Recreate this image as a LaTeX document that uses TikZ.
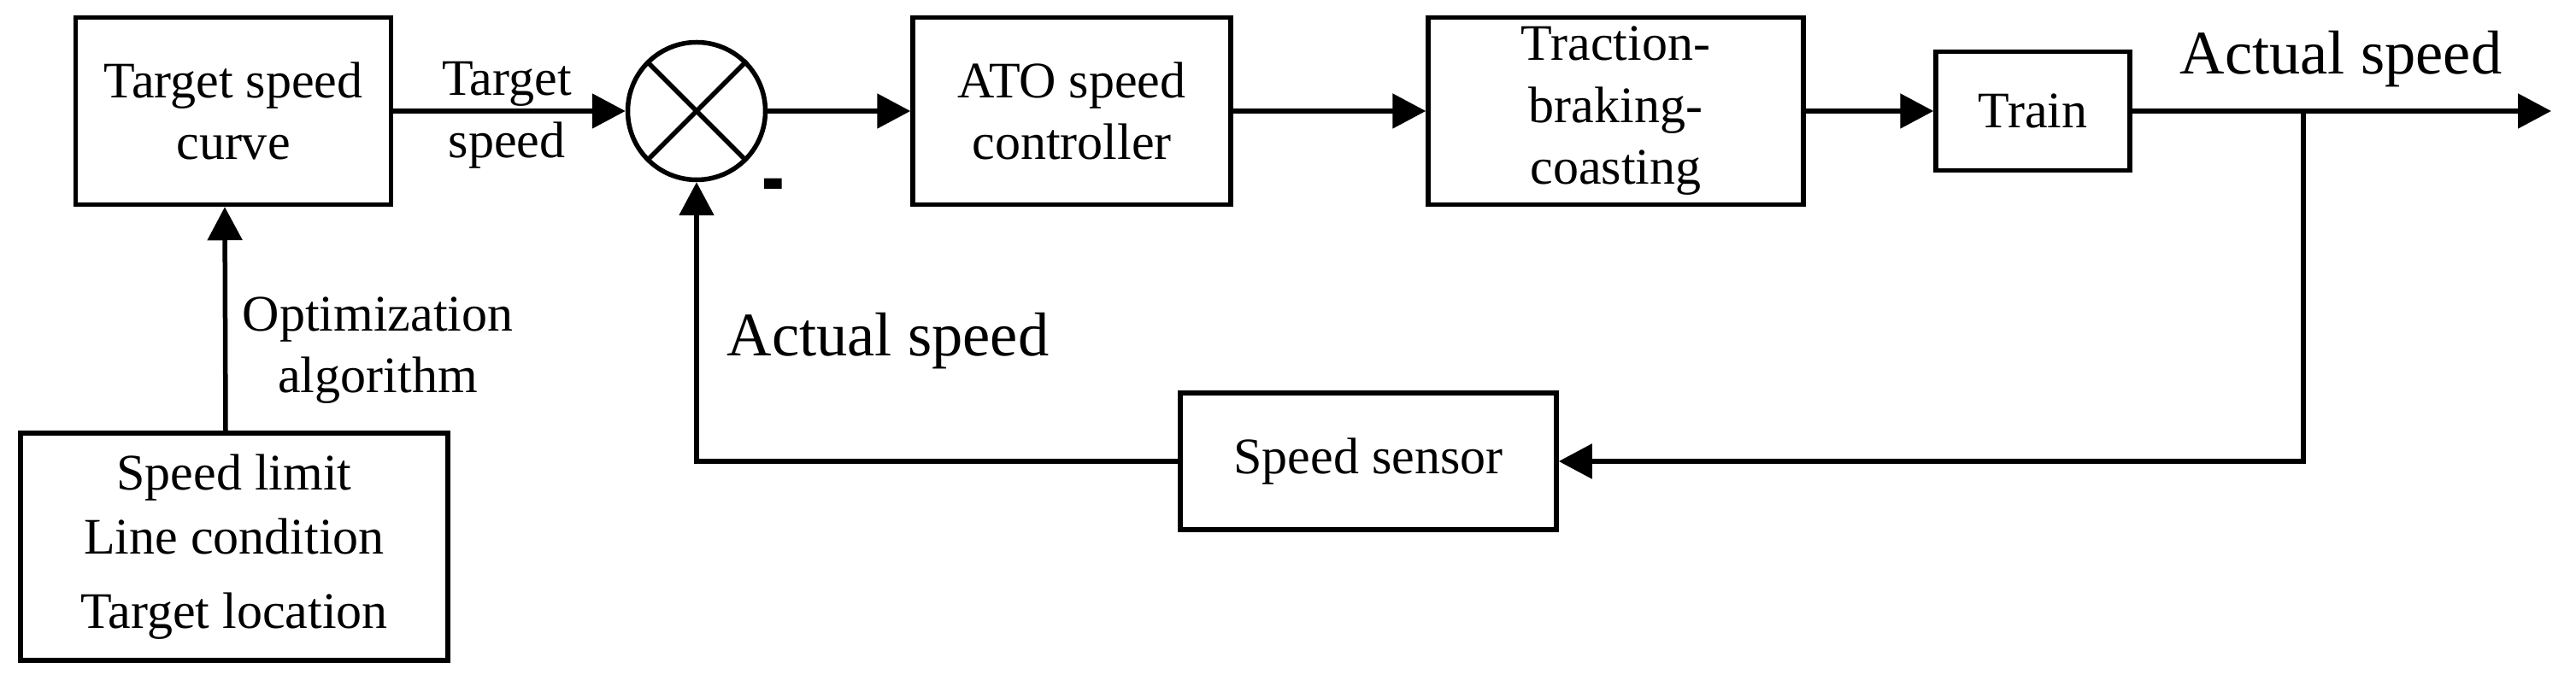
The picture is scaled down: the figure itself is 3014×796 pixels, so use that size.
\documentclass[tikz,border=0pt]{standalone}
\usepackage{fontspec}
\setmainfont{Liberation Serif}
\usetikzlibrary{arrows.meta,calc}
\begin{document}
\begin{tikzpicture}[x=0.2pt,y=-0.2pt,
  line width=1.1pt,
  blk/.style={draw,line width=1.1pt,align=center,inner sep=0pt,font=\fontsize{12}{14.5}\selectfont},
  arr/.style={-{Triangle[length=7.8pt,width=8pt]}},
  lbl/.style={align=center,inner sep=0pt,font=\fontsize{12}{14.5}\selectfont},
  big/.style={inner sep=0pt,font=\fontsize{14.5}{17}\selectfont}]
\useasboundingbox (0,0) rectangle (3014,796);
\node[blk,minimum width=73.8pt,minimum height=43.8pt] (tsc) at (273,130) {Target speed\\curve};
\node[draw,circle,minimum size=32.2pt,inner sep=0pt] (sum) at (815,130) {};
\draw (sum.north west) -- (sum.south east) (sum.north east) -- (sum.south west);
\node[blk,minimum width=74.4pt,minimum height=43.8pt] (ato) at (1254,130) {ATO speed\\controller};
\node[blk,minimum width=87.8pt,minimum height=43.8pt] (tbc) at (1890.5,130) {Traction-\\braking-\\coasting};
\node[blk,minimum width=45.4pt,minimum height=27.8pt] (train) at (2378.5,130) {Train};
\node[blk,minimum width=88pt,minimum height=32pt] (sensor) at (1601,540) {Speed sensor};
\node[blk,minimum width=100pt,minimum height=53.2pt] (sl) at (274,640) {Speed limit\\[0.5pt]Line condition\\[3pt]Target location};
\coordinate (out) at (2985,130);
\coordinate (br) at (2695,130);
\coordinate (brd) at (2695,540);
\coordinate (fb) at (815,540);
\draw[arr] (tsc) -- (sum);
\draw[arr] (sum) -- (ato);
\draw[arr] (ato) -- (tbc);
\draw[arr] (tbc) -- (train);
\draw[arr] (train) -- (out);
\draw[arr] (br) -- (brd) -- (sensor);
\draw[arr] (sensor) -- (fb) -- (sum);
\draw[arr] ([xshift=-2pt]sl.north) -- ([xshift=-2pt]tsc.south);
\node[lbl] (tsl) at (593,135) {Target\\speed};
\node[lbl] (opt) at (442,410) {Optimization\\algorithm};
\node[big,anchor=base west] (as1) at (848,417) {Actual speed};
\node[big,anchor=base west] (as2) at (2548,87) {Actual speed};
\node[big] (minus) at (905,229) {\scalebox{1.1}[2]{\textbf{-}}};
\end{tikzpicture}
\end{document}
